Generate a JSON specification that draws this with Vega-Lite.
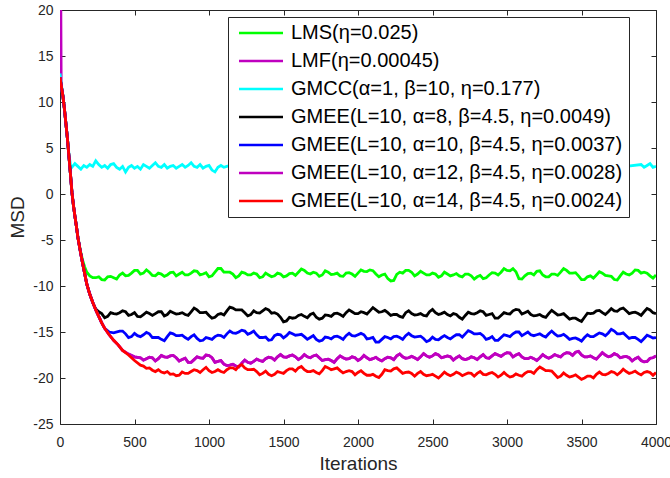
{
"$schema": "https://vega.github.io/schema/vega-lite/v6.json",
"width": 596, "height": 414,
"autosize": "none",
"padding": {"left": 60, "top": 10, "right": 14, "bottom": 54},
"background": "white",
"config": {"view": {"stroke": null}, "font": "Liberation Sans",
  "axis": {"domainColor": "#262626", "tickColor": "#262626", "labelColor": "#262626", "titleColor": "#262626", "labelFont": "Liberation Sans", "titleFont": "Liberation Sans", "labelFontSize": 14, "titleFontSize": 19, "titleFontWeight": "normal", "grid": false, "tickSize": -5, "domainWidth": 1, "tickWidth": 1}},
"datasets": {
"names": [{"k":1,"n":"LMS(η=0.025)"},{"k":2,"n":"LMF(η=0.00045)"},{"k":3,"n":"GMCC(α=1, β=10, η=0.177)"},{"k":4,"n":"GMEE(L=10, α=8, β=4.5, η=0.0049)"},{"k":5,"n":"GMEE(L=10, α=10, β=4.5, η=0.0037)"},{"k":6,"n":"GMEE(L=10, α=12, β=4.5, η=0.0028)"},{"k":7,"n":"GMEE(L=10, α=14, β=4.5, η=0.0024)"}],
"msd": [
{"k":1,"x":0,"y":12.7},{"k":1,"x":10,"y":11.6},{"k":1,"x":20,"y":10.6},{"k":1,"x":30,"y":9.2},{"k":1,"x":40,"y":7.6},{"k":1,"x":50,"y":6.0},{"k":1,"x":60,"y":4.1},{"k":1,"x":70,"y":2.2},{"k":1,"x":80,"y":0.2},{"k":1,"x":90,"y":-1.2},{"k":1,"x":100,"y":-2.4},{"k":1,"x":110,"y":-3.5},{"k":1,"x":120,"y":-4.7},{"k":1,"x":135,"y":-6.0},{"k":1,"x":150,"y":-7.1},{"k":1,"x":165,"y":-7.9},{"k":1,"x":180,"y":-8.5},{"k":1,"x":200,"y":-8.9},{"k":1,"x":220,"y":-9.1},
{"k":1,"x":240,"y":-9.1},{"k":1,"x":280,"y":-9.3},{"k":1,"x":320,"y":-9.0},{"k":1,"x":360,"y":-9.1},{"k":1,"x":400,"y":-8.8},{"k":1,"x":440,"y":-8.9},{"k":1,"x":480,"y":-8.6},{"k":1,"x":520,"y":-8.3},{"k":1,"x":560,"y":-8.6},{"k":1,"x":600,"y":-8.5},{"k":1,"x":640,"y":-8.9},{"k":1,"x":680,"y":-8.7},{"k":1,"x":720,"y":-8.8},{"k":1,"x":760,"y":-8.5},{"k":1,"x":800,"y":-8.7},{"k":1,"x":840,"y":-8.8},{"k":1,"x":880,"y":-8.6},{"k":1,"x":920,"y":-8.4},{"k":1,"x":960,"y":-8.7},{"k":1,"x":1000,"y":-9.0},{"k":1,"x":1040,"y":-8.5},{"k":1,"x":1080,"y":-8.1},{"k":1,"x":1120,"y":-8.5},{"k":1,"x":1160,"y":-8.7},{"k":1,"x":1200,"y":-8.9},{"k":1,"x":1240,"y":-8.6},{"k":1,"x":1280,"y":-8.8},{"k":1,"x":1320,"y":-8.7},{"k":1,"x":1360,"y":-9.0},{"k":1,"x":1400,"y":-8.8},{"k":1,"x":1440,"y":-8.9},{"k":1,"x":1480,"y":-8.7},{"k":1,"x":1520,"y":-8.9},{"k":1,"x":1560,"y":-8.6},{"k":1,"x":1600,"y":-8.5},{"k":1,"x":1640,"y":-8.3},{"k":1,"x":1680,"y":-8.7},{"k":1,"x":1720,"y":-8.6},{"k":1,"x":1760,"y":-8.8},{"k":1,"x":1800,"y":-8.5},{"k":1,"x":1840,"y":-8.7},{"k":1,"x":1880,"y":-8.9},{"k":1,"x":1920,"y":-8.6},{"k":1,"x":1960,"y":-8.7},{"k":1,"x":2000,"y":-8.6},{"k":1,"x":2040,"y":-8.4},{"k":1,"x":2080,"y":-8.25},{"k":1,"x":2120,"y":-8.7},{"k":1,"x":2160,"y":-8.8},{"k":1,"x":2200,"y":-9.2},{"k":1,"x":2240,"y":-9.4},{"k":1,"x":2280,"y":-8.5},{"k":1,"x":2320,"y":-8.3},{"k":1,"x":2360,"y":-8.5},{"k":1,"x":2400,"y":-8.7},{"k":1,"x":2440,"y":-8.6},{"k":1,"x":2480,"y":-8.8},{"k":1,"x":2520,"y":-8.7},{"k":1,"x":2560,"y":-8.9},{"k":1,"x":2600,"y":-8.7},{"k":1,"x":2640,"y":-8.8},{"k":1,"x":2680,"y":-8.9},{"k":1,"x":2720,"y":-8.7},{"k":1,"x":2760,"y":-8.9},{"k":1,"x":2800,"y":-9.0},{"k":1,"x":2840,"y":-9.2},{"k":1,"x":2880,"y":-8.8},{"k":1,"x":2920,"y":-8.6},{"k":1,"x":2960,"y":-8.5},{"k":1,"x":3000,"y":-8.3},{"k":1,"x":3040,"y":-8.1},{"k":1,"x":3080,"y":-9.2},{"k":1,"x":3120,"y":-8.9},{"k":1,"x":3160,"y":-8.6},{"k":1,"x":3200,"y":-8.4},{"k":1,"x":3240,"y":-8.8},{"k":1,"x":3280,"y":-9.0},{"k":1,"x":3320,"y":-8.7},{"k":1,"x":3360,"y":-8.5},{"k":1,"x":3400,"y":-8.3},{"k":1,"x":3440,"y":-8.6},{"k":1,"x":3480,"y":-8.9},{"k":1,"x":3520,"y":-9.3},{"k":1,"x":3560,"y":-8.9},{"k":1,"x":3600,"y":-8.8},{"k":1,"x":3640,"y":-8.6},{"k":1,"x":3680,"y":-8.9},{"k":1,"x":3720,"y":-9.3},{"k":1,"x":3760,"y":-8.9},{"k":1,"x":3800,"y":-8.7},{"k":1,"x":3840,"y":-8.6},{"k":1,"x":3880,"y":-8.3},{"k":1,"x":3920,"y":-8.5},{"k":1,"x":3960,"y":-8.9},{"k":1,"x":4000,"y":-8.8},
{"k":1,"x":260,"y":-9.0},{"k":1,"x":300,"y":-9.35},{"k":1,"x":340,"y":-8.95},{"k":1,"x":380,"y":-9.25},{"k":1,"x":420,"y":-8.6},{"k":1,"x":460,"y":-8.85},{"k":1,"x":500,"y":-8.3},{"k":1,"x":540,"y":-8.7},{"k":1,"x":580,"y":-8.25},{"k":1,"x":620,"y":-8.85},{"k":1,"x":660,"y":-8.6},{"k":1,"x":700,"y":-8.95},{"k":1,"x":740,"y":-8.55},{"k":1,"x":780,"y":-8.9},{"k":1,"x":820,"y":-8.5},{"k":1,"x":860,"y":-8.8},{"k":1,"x":900,"y":-8.35},{"k":1,"x":940,"y":-8.8},{"k":1,"x":980,"y":-8.55},{"k":1,"x":1020,"y":-8.9},{"k":1,"x":1060,"y":-8.1},{"k":1,"x":1100,"y":-8.5},{"k":1,"x":1140,"y":-8.5},{"k":1,"x":1180,"y":-9.1},{"k":1,"x":1220,"y":-8.5},{"k":1,"x":1260,"y":-8.8},{"k":1,"x":1300,"y":-8.6},{"k":1,"x":1340,"y":-9.1},{"k":1,"x":1380,"y":-8.6},{"k":1,"x":1420,"y":-9.0},{"k":1,"x":1460,"y":-8.6},{"k":1,"x":1500,"y":-9.0},{"k":1,"x":1540,"y":-8.65},{"k":1,"x":1580,"y":-8.85},{"k":1,"x":1620,"y":-8.15},{"k":1,"x":1660,"y":-8.6},{"k":1,"x":1700,"y":-8.5},{"k":1,"x":1740,"y":-8.95},{"k":1,"x":1780,"y":-8.35},{"k":1,"x":1820,"y":-8.75},{"k":1,"x":1860,"y":-8.6},{"k":1,"x":1900,"y":-8.95},{"k":1,"x":1940,"y":-8.55},{"k":1,"x":1980,"y":-8.95},{"k":1,"x":2020,"y":-8.25},{"k":1,"x":2060,"y":-8.43},{"k":1,"x":2100,"y":-8.33},{"k":1,"x":2140,"y":-9.0},{"k":1,"x":2180,"y":-8.7},{"k":1,"x":2220,"y":-9.45},{"k":1,"x":2260,"y":-8.75},{"k":1,"x":2300,"y":-8.6},{"k":1,"x":2340,"y":-8.3},{"k":1,"x":2380,"y":-8.9},{"k":1,"x":2420,"y":-8.4},{"k":1,"x":2460,"y":-8.8},{"k":1,"x":2500,"y":-8.6},{"k":1,"x":2540,"y":-9.05},{"k":1,"x":2580,"y":-8.5},{"k":1,"x":2620,"y":-8.9},{"k":1,"x":2660,"y":-8.65},{"k":1,"x":2700,"y":-9.0},{"k":1,"x":2740,"y":-8.7},{"k":1,"x":2780,"y":-9.25},{"k":1,"x":2820,"y":-8.85},{"k":1,"x":2860,"y":-9.1},{"k":1,"x":2900,"y":-8.55},{"k":1,"x":2940,"y":-8.8},{"k":1,"x":2980,"y":-8.1},{"k":1,"x":3020,"y":-8.35},{"k":1,"x":3060,"y":-8.45},{"k":1,"x":3100,"y":-9.25},{"k":1,"x":3140,"y":-8.65},{"k":1,"x":3180,"y":-8.8},{"k":1,"x":3220,"y":-8.35},{"k":1,"x":3260,"y":-9.0},{"k":1,"x":3300,"y":-8.7},{"k":1,"x":3340,"y":-8.85},{"k":1,"x":3380,"y":-8.1},{"k":1,"x":3420,"y":-8.6},{"k":1,"x":3460,"y":-8.55},{"k":1,"x":3500,"y":-9.3},{"k":1,"x":3540,"y":-9.0},{"k":1,"x":3580,"y":-9.15},{"k":1,"x":3620,"y":-8.45},{"k":1,"x":3660,"y":-8.85},{"k":1,"x":3700,"y":-8.95},{"k":1,"x":3740,"y":-9.35},{"k":1,"x":3780,"y":-8.5},{"k":1,"x":3820,"y":-8.8},{"k":1,"x":3860,"y":-8.25},{"k":1,"x":3900,"y":-8.6},{"k":1,"x":3940,"y":-8.6},{"k":1,"x":3980,"y":-9.15},
{"k":2,"x":0,"y":40},{"k":2,"x":8,"y":11.8},{"k":2,"x":20,"y":10.6},{"k":2,"x":30,"y":9.2},{"k":2,"x":40,"y":7.6},{"k":2,"x":50,"y":6.0},{"k":2,"x":60,"y":4.1},{"k":2,"x":70,"y":2.2},{"k":2,"x":80,"y":0.2},{"k":2,"x":90,"y":-1.2},{"k":2,"x":100,"y":-2.4},{"k":2,"x":110,"y":-3.5},{"k":2,"x":120,"y":-4.7},{"k":2,"x":135,"y":-6.1},{"k":2,"x":150,"y":-7.4},{"k":2,"x":165,"y":-8.6},{"k":2,"x":180,"y":-9.8},{"k":2,"x":200,"y":-10.9},{"k":2,"x":220,"y":-11.8},{"k":2,"x":240,"y":-12.6},{"k":2,"x":260,"y":-13.3},{"k":2,"x":280,"y":-14.0},{"k":2,"x":300,"y":-14.6},{"k":2,"x":330,"y":-15.3},{"k":2,"x":360,"y":-15.9},{"k":2,"x":390,"y":-16.4},{"k":2,"x":420,"y":-17.0},{"k":2,"x":460,"y":-17.4},{"k":2,"x":500,"y":-17.7},
{"k":2,"x":540,"y":-17.8},{"k":2,"x":580,"y":-17.9},{"k":2,"x":620,"y":-17.8},{"k":2,"x":660,"y":-17.9},{"k":2,"x":700,"y":-17.7},{"k":2,"x":740,"y":-17.6},{"k":2,"x":780,"y":-17.8},{"k":2,"x":820,"y":-18.0},{"k":2,"x":860,"y":-18.3},{"k":2,"x":900,"y":-18.0},{"k":2,"x":940,"y":-17.8},{"k":2,"x":980,"y":-17.5},{"k":2,"x":1020,"y":-17.8},{"k":2,"x":1060,"y":-18.2},{"k":2,"x":1100,"y":-18.5},{"k":2,"x":1140,"y":-18.6},{"k":2,"x":1180,"y":-18.7},{"k":2,"x":1220,"y":-18.4},{"k":2,"x":1260,"y":-18.3},{"k":2,"x":1300,"y":-18.2},{"k":2,"x":1340,"y":-18.1},{"k":2,"x":1380,"y":-17.9},{"k":2,"x":1420,"y":-17.8},{"k":2,"x":1460,"y":-17.7},{"k":2,"x":1500,"y":-17.7},{"k":2,"x":1540,"y":-17.6},{"k":2,"x":1580,"y":-17.7},{"k":2,"x":1620,"y":-17.8},{"k":2,"x":1660,"y":-17.7},{"k":2,"x":1700,"y":-17.6},{"k":2,"x":1740,"y":-17.8},{"k":2,"x":1780,"y":-18.0},{"k":2,"x":1820,"y":-18.1},{"k":2,"x":1860,"y":-17.9},{"k":2,"x":1900,"y":-17.8},{"k":2,"x":1940,"y":-17.9},{"k":2,"x":1980,"y":-17.8},{"k":2,"x":2020,"y":-17.9},{"k":2,"x":2060,"y":-17.8},{"k":2,"x":2100,"y":-17.9},{"k":2,"x":2140,"y":-18.0},{"k":2,"x":2180,"y":-17.9},{"k":2,"x":2220,"y":-17.8},{"k":2,"x":2260,"y":-17.6},{"k":2,"x":2300,"y":-17.7},{"k":2,"x":2340,"y":-17.8},{"k":2,"x":2380,"y":-17.8},{"k":2,"x":2420,"y":-17.7},{"k":2,"x":2460,"y":-17.6},{"k":2,"x":2500,"y":-17.6},{"k":2,"x":2540,"y":-17.5},{"k":2,"x":2580,"y":-17.7},{"k":2,"x":2620,"y":-17.7},{"k":2,"x":2660,"y":-17.8},{"k":2,"x":2700,"y":-17.9},{"k":2,"x":2740,"y":-17.9},{"k":2,"x":2780,"y":-17.8},{"k":2,"x":2820,"y":-17.7},{"k":2,"x":2860,"y":-17.8},{"k":2,"x":2900,"y":-17.6},{"k":2,"x":2940,"y":-17.5},{"k":2,"x":2980,"y":-17.4},{"k":2,"x":3020,"y":-17.3},{"k":2,"x":3060,"y":-17.5},{"k":2,"x":3100,"y":-17.7},{"k":2,"x":3140,"y":-17.9},{"k":2,"x":3180,"y":-17.9},{"k":2,"x":3220,"y":-17.8},{"k":2,"x":3260,"y":-17.7},{"k":2,"x":3300,"y":-17.7},{"k":2,"x":3340,"y":-17.6},{"k":2,"x":3380,"y":-17.4},{"k":2,"x":3420,"y":-17.3},{"k":2,"x":3460,"y":-17.2},{"k":2,"x":3500,"y":-17.5},{"k":2,"x":3540,"y":-17.7},{"k":2,"x":3580,"y":-17.8},{"k":2,"x":3620,"y":-17.6},{"k":2,"x":3660,"y":-17.5},{"k":2,"x":3700,"y":-17.6},{"k":2,"x":3740,"y":-17.5},{"k":2,"x":3780,"y":-17.7},{"k":2,"x":3820,"y":-17.8},{"k":2,"x":3860,"y":-17.9},{"k":2,"x":3900,"y":-18.1},{"k":2,"x":3940,"y":-18.2},{"k":2,"x":3980,"y":-17.8},{"k":2,"x":4000,"y":-17.6},
{"k":2,"x":560,"y":-18.05},{"k":2,"x":600,"y":-17.75},{"k":2,"x":640,"y":-18.15},{"k":2,"x":680,"y":-17.55},{"k":2,"x":720,"y":-17.75},{"k":2,"x":760,"y":-17.55},{"k":2,"x":800,"y":-18.15},{"k":2,"x":840,"y":-17.85},{"k":2,"x":880,"y":-18.3},{"k":2,"x":920,"y":-17.7},{"k":2,"x":960,"y":-17.85},{"k":2,"x":1000,"y":-17.55},{"k":2,"x":1040,"y":-18.3},{"k":2,"x":1080,"y":-18.1},{"k":2,"x":1120,"y":-18.65},{"k":2,"x":1160,"y":-18.5},{"k":2,"x":1200,"y":-18.8},{"k":2,"x":1240,"y":-18.05},{"k":2,"x":1280,"y":-18.4},{"k":2,"x":1320,"y":-17.95},{"k":2,"x":1360,"y":-18.2},{"k":2,"x":1400,"y":-17.75},{"k":2,"x":1440,"y":-18.05},{"k":2,"x":1480,"y":-17.45},{"k":2,"x":1520,"y":-17.75},{"k":2,"x":1560,"y":-17.5},{"k":2,"x":1600,"y":-18.0},{"k":2,"x":1640,"y":-17.45},{"k":2,"x":1680,"y":-17.8},{"k":2,"x":1720,"y":-17.5},{"k":2,"x":1760,"y":-18.1},{"k":2,"x":1800,"y":-17.95},{"k":2,"x":1840,"y":-18.3},{"k":2,"x":1880,"y":-17.6},{"k":2,"x":1920,"y":-17.95},{"k":2,"x":1960,"y":-17.7},{"k":2,"x":2000,"y":-18.1},{"k":2,"x":2040,"y":-17.55},{"k":2,"x":2080,"y":-18.0},{"k":2,"x":2120,"y":-17.75},{"k":2,"x":2160,"y":-18.15},{"k":2,"x":2200,"y":-17.75},{"k":2,"x":2240,"y":-18.0},{"k":2,"x":2280,"y":-17.4},{"k":2,"x":2320,"y":-17.85},{"k":2,"x":2360,"y":-17.65},{"k":2,"x":2400,"y":-18.0},{"k":2,"x":2440,"y":-17.35},{"k":2,"x":2480,"y":-17.75},{"k":2,"x":2520,"y":-17.35},{"k":2,"x":2560,"y":-17.8},{"k":2,"x":2600,"y":-17.6},{"k":2,"x":2640,"y":-18.05},{"k":2,"x":2680,"y":-17.6},{"k":2,"x":2720,"y":-18.0},{"k":2,"x":2760,"y":-17.7},{"k":2,"x":2800,"y":-18.0},{"k":2,"x":2840,"y":-17.45},{"k":2,"x":2880,"y":-17.85},{"k":2,"x":2920,"y":-17.35},{"k":2,"x":2960,"y":-17.65},{"k":2,"x":3000,"y":-17.25},{"k":2,"x":3040,"y":-17.7},{"k":2,"x":3080,"y":-17.35},{"k":2,"x":3120,"y":-17.9},{"k":2,"x":3160,"y":-17.75},{"k":2,"x":3200,"y":-18.1},{"k":2,"x":3240,"y":-17.45},{"k":2,"x":3280,"y":-17.85},{"k":2,"x":3320,"y":-17.45},{"k":2,"x":3360,"y":-17.7},{"k":2,"x":3400,"y":-17.25},{"k":2,"x":3440,"y":-17.55},{"k":2,"x":3480,"y":-17.1},{"k":2,"x":3520,"y":-17.7},{"k":2,"x":3560,"y":-17.6},{"k":2,"x":3600,"y":-17.95},{"k":2,"x":3640,"y":-17.25},{"k":2,"x":3680,"y":-17.7},{"k":2,"x":3720,"y":-17.35},{"k":2,"x":3760,"y":-17.8},{"k":2,"x":3800,"y":-17.65},{"k":2,"x":3840,"y":-18.15},{"k":2,"x":3880,"y":-17.75},{"k":2,"x":3920,"y":-18.25},{"k":2,"x":3960,"y":-17.85},
{"k":3,"x":0,"y":13.1},{"k":3,"x":10,"y":11.8},{"k":3,"x":20,"y":10.7},{"k":3,"x":30,"y":9.2},{"k":3,"x":40,"y":7.6},{"k":3,"x":50,"y":6.0},{"k":3,"x":60,"y":4.3},{"k":3,"x":70,"y":3.2},{"k":3,"x":80,"y":2.9},{"k":3,"x":100,"y":3.3},{"k":3,"x":120,"y":3.0},{"k":3,"x":140,"y":2.7},{"k":3,"x":160,"y":3.1},{"k":3,"x":180,"y":2.9},{"k":3,"x":200,"y":3.2},{"k":3,"x":220,"y":3.0},{"k":3,"x":240,"y":3.6},{"k":3,"x":260,"y":3.2},{"k":3,"x":280,"y":2.9},{"k":3,"x":300,"y":3.1},{"k":3,"x":320,"y":2.8},{"k":3,"x":340,"y":3.2},{"k":3,"x":360,"y":3.3},{"k":3,"x":380,"y":2.9},{"k":3,"x":400,"y":2.7},{"k":3,"x":420,"y":3.0},{"k":3,"x":440,"y":2.4},{"k":3,"x":460,"y":2.9},{"k":3,"x":480,"y":3.1},{"k":3,"x":500,"y":2.8},{"k":3,"x":520,"y":3.0},{"k":3,"x":540,"y":2.7},{"k":3,"x":560,"y":3.2},{"k":3,"x":580,"y":3.0},{"k":3,"x":600,"y":2.8},{"k":3,"x":620,"y":3.1},{"k":3,"x":640,"y":3.4},{"k":3,"x":660,"y":3.0},{"k":3,"x":680,"y":2.9},{"k":3,"x":700,"y":3.2},{"k":3,"x":720,"y":2.8},{"k":3,"x":740,"y":3.0},{"k":3,"x":760,"y":3.1},{"k":3,"x":780,"y":2.8},{"k":3,"x":800,"y":3.0},{"k":3,"x":820,"y":3.2},{"k":3,"x":840,"y":2.9},{"k":3,"x":860,"y":3.1},{"k":3,"x":880,"y":3.4},{"k":3,"x":900,"y":3.0},{"k":3,"x":920,"y":2.9},{"k":3,"x":940,"y":3.2},{"k":3,"x":960,"y":2.8},{"k":3,"x":980,"y":3.0},{"k":3,"x":1000,"y":3.1},{"k":3,"x":1020,"y":2.6},{"k":3,"x":1040,"y":2.4},{"k":3,"x":1060,"y":2.9},{"k":3,"x":1080,"y":3.1},{"k":3,"x":1100,"y":2.9},{"k":3,"x":1120,"y":3.0},{"k":3,"x":1140,"y":3.1},{"k":3,"x":1160,"y":2.8},{"k":3,"x":1400,"y":3.0},{"k":3,"x":1800,"y":2.9},{"k":3,"x":2200,"y":3.1},{"k":3,"x":2600,"y":3.0},{"k":3,"x":3000,"y":2.9},{"k":3,"x":3400,"y":3.1},{"k":3,"x":3800,"y":3.0},{"k":3,"x":3900,"y":3.2},{"k":3,"x":3920,"y":2.9},{"k":3,"x":3940,"y":3.1},{"k":3,"x":3960,"y":3.3},{"k":3,"x":3980,"y":2.9},{"k":3,"x":4000,"y":3.0},
{"k":4,"x":0,"y":12.7},{"k":4,"x":10,"y":11.6},{"k":4,"x":20,"y":10.6},{"k":4,"x":30,"y":9.2},{"k":4,"x":40,"y":7.6},{"k":4,"x":50,"y":6.0},{"k":4,"x":60,"y":4.1},{"k":4,"x":70,"y":2.2},{"k":4,"x":80,"y":0.2},{"k":4,"x":90,"y":-1.2},{"k":4,"x":100,"y":-2.4},{"k":4,"x":110,"y":-3.5},{"k":4,"x":120,"y":-4.7},{"k":4,"x":135,"y":-6.1},{"k":4,"x":150,"y":-7.4},{"k":4,"x":165,"y":-8.6},{"k":4,"x":180,"y":-9.8},{"k":4,"x":200,"y":-10.9},{"k":4,"x":220,"y":-11.8},{"k":4,"x":240,"y":-12.5},{"k":4,"x":260,"y":-12.8},
{"k":4,"x":280,"y":-13.0},{"k":4,"x":320,"y":-13.3},{"k":4,"x":360,"y":-13.0},{"k":4,"x":400,"y":-12.9},{"k":4,"x":440,"y":-12.8},{"k":4,"x":480,"y":-13.1},{"k":4,"x":520,"y":-13.3},{"k":4,"x":560,"y":-13.1},{"k":4,"x":600,"y":-13.0},{"k":4,"x":640,"y":-13.0},{"k":4,"x":680,"y":-12.8},{"k":4,"x":720,"y":-13.1},{"k":4,"x":760,"y":-12.9},{"k":4,"x":800,"y":-13.0},{"k":4,"x":840,"y":-13.1},{"k":4,"x":880,"y":-12.8},{"k":4,"x":920,"y":-12.6},{"k":4,"x":960,"y":-12.9},{"k":4,"x":1000,"y":-13.2},{"k":4,"x":1040,"y":-13.4},{"k":4,"x":1080,"y":-13.0},{"k":4,"x":1120,"y":-12.7},{"k":4,"x":1160,"y":-12.4},{"k":4,"x":1200,"y":-12.6},{"k":4,"x":1240,"y":-12.9},{"k":4,"x":1280,"y":-13.1},{"k":4,"x":1320,"y":-12.9},{"k":4,"x":1360,"y":-12.7},{"k":4,"x":1400,"y":-12.6},{"k":4,"x":1440,"y":-12.9},{"k":4,"x":1480,"y":-13.4},{"k":4,"x":1520,"y":-13.8},{"k":4,"x":1560,"y":-13.5},{"k":4,"x":1600,"y":-13.2},{"k":4,"x":1640,"y":-13.3},{"k":4,"x":1680,"y":-13.1},{"k":4,"x":1720,"y":-13.4},{"k":4,"x":1760,"y":-13.5},{"k":4,"x":1800,"y":-13.2},{"k":4,"x":1840,"y":-13.0},{"k":4,"x":1880,"y":-13.1},{"k":4,"x":1920,"y":-12.9},{"k":4,"x":1960,"y":-12.8},{"k":4,"x":2000,"y":-13.0},{"k":4,"x":2040,"y":-12.9},{"k":4,"x":2080,"y":-12.7},{"k":4,"x":2120,"y":-12.6},{"k":4,"x":2160,"y":-12.8},{"k":4,"x":2200,"y":-12.9},{"k":4,"x":2240,"y":-13.1},{"k":4,"x":2280,"y":-13.3},{"k":4,"x":2320,"y":-12.9},{"k":4,"x":2360,"y":-13.0},{"k":4,"x":2400,"y":-13.1},{"k":4,"x":2440,"y":-13.2},{"k":4,"x":2480,"y":-12.8},{"k":4,"x":2520,"y":-12.9},{"k":4,"x":2560,"y":-13.0},{"k":4,"x":2600,"y":-13.1},{"k":4,"x":2640,"y":-13.0},{"k":4,"x":2680,"y":-13.4},{"k":4,"x":2720,"y":-13.2},{"k":4,"x":2760,"y":-13.0},{"k":4,"x":2800,"y":-12.9},{"k":4,"x":2840,"y":-12.8},{"k":4,"x":2880,"y":-13.1},{"k":4,"x":2920,"y":-13.5},{"k":4,"x":2960,"y":-13.2},{"k":4,"x":3000,"y":-13.0},{"k":4,"x":3040,"y":-12.7},{"k":4,"x":3080,"y":-12.6},{"k":4,"x":3120,"y":-12.9},{"k":4,"x":3160,"y":-13.1},{"k":4,"x":3200,"y":-13.2},{"k":4,"x":3240,"y":-13.3},{"k":4,"x":3280,"y":-13.0},{"k":4,"x":3320,"y":-12.9},{"k":4,"x":3360,"y":-13.1},{"k":4,"x":3400,"y":-13.3},{"k":4,"x":3440,"y":-13.5},{"k":4,"x":3480,"y":-13.7},{"k":4,"x":3520,"y":-13.4},{"k":4,"x":3560,"y":-13.0},{"k":4,"x":3600,"y":-12.7},{"k":4,"x":3640,"y":-12.9},{"k":4,"x":3680,"y":-12.8},{"k":4,"x":3720,"y":-12.7},{"k":4,"x":3760,"y":-12.5},{"k":4,"x":3800,"y":-12.7},{"k":4,"x":3840,"y":-12.9},{"k":4,"x":3880,"y":-13.0},{"k":4,"x":3920,"y":-12.8},{"k":4,"x":3960,"y":-12.6},{"k":4,"x":4000,"y":-13.0},
{"k":4,"x":300,"y":-13.45},{"k":4,"x":340,"y":-12.9},{"k":4,"x":380,"y":-13.05},{"k":4,"x":420,"y":-12.7},{"k":4,"x":460,"y":-13.2},{"k":4,"x":500,"y":-12.9},{"k":4,"x":540,"y":-13.35},{"k":4,"x":580,"y":-12.85},{"k":4,"x":620,"y":-13.2},{"k":4,"x":660,"y":-12.8},{"k":4,"x":700,"y":-13.25},{"k":4,"x":740,"y":-12.75},{"k":4,"x":780,"y":-13.05},{"k":4,"x":820,"y":-12.9},{"k":4,"x":860,"y":-13.2},{"k":4,"x":900,"y":-12.4},{"k":4,"x":940,"y":-12.9},{"k":4,"x":980,"y":-12.85},{"k":4,"x":1020,"y":-13.5},{"k":4,"x":1060,"y":-13.1},{"k":4,"x":1100,"y":-13.15},{"k":4,"x":1140,"y":-12.3},{"k":4,"x":1180,"y":-12.6},{"k":4,"x":1220,"y":-12.6},{"k":4,"x":1260,"y":-13.25},{"k":4,"x":1300,"y":-12.7},{"k":4,"x":1340,"y":-12.95},{"k":4,"x":1380,"y":-12.45},{"k":4,"x":1420,"y":-12.95},{"k":4,"x":1460,"y":-13.05},{"k":4,"x":1500,"y":-13.9},{"k":4,"x":1540,"y":-13.4},{"k":4,"x":1580,"y":-13.45},{"k":4,"x":1620,"y":-13.1},{"k":4,"x":1660,"y":-13.45},{"k":4,"x":1700,"y":-12.95},{"k":4,"x":1740,"y":-13.6},{"k":4,"x":1780,"y":-13.15},{"k":4,"x":1820,"y":-13.3},{"k":4,"x":1860,"y":-12.95},{"k":4,"x":1900,"y":-13.3},{"k":4,"x":1940,"y":-12.6},{"k":4,"x":1980,"y":-13.0},{"k":4,"x":2020,"y":-12.8},{"k":4,"x":2060,"y":-13.05},{"k":4,"x":2100,"y":-12.35},{"k":4,"x":2140,"y":-12.85},{"k":4,"x":2180,"y":-12.65},{"k":4,"x":2220,"y":-13.2},{"k":4,"x":2260,"y":-13.1},{"k":4,"x":2300,"y":-13.4},{"k":4,"x":2340,"y":-12.7},{"k":4,"x":2380,"y":-13.15},{"k":4,"x":2420,"y":-13.0},{"k":4,"x":2460,"y":-13.25},{"k":4,"x":2500,"y":-12.55},{"k":4,"x":2540,"y":-13.1},{"k":4,"x":2580,"y":-12.85},{"k":4,"x":2620,"y":-13.25},{"k":4,"x":2660,"y":-13.1},{"k":4,"x":2700,"y":-13.6},{"k":4,"x":2740,"y":-12.85},{"k":4,"x":2780,"y":-13.05},{"k":4,"x":2820,"y":-12.7},{"k":4,"x":2860,"y":-13.2},{"k":4,"x":2900,"y":-13.0},{"k":4,"x":2940,"y":-13.5},{"k":4,"x":2980,"y":-12.9},{"k":4,"x":3020,"y":-13.05},{"k":4,"x":3060,"y":-12.55},{"k":4,"x":3100,"y":-13.05},{"k":4,"x":3140,"y":-12.75},{"k":4,"x":3180,"y":-13.25},{"k":4,"x":3220,"y":-13.1},{"k":4,"x":3260,"y":-13.4},{"k":4,"x":3300,"y":-12.65},{"k":4,"x":3340,"y":-13.15},{"k":4,"x":3380,"y":-13.0},{"k":4,"x":3420,"y":-13.6},{"k":4,"x":3460,"y":-13.5},{"k":4,"x":3500,"y":-13.85},{"k":4,"x":3540,"y":-12.95},{"k":4,"x":3580,"y":-12.95},{"k":4,"x":3620,"y":-12.65},{"k":4,"x":3660,"y":-13.1},{"k":4,"x":3700,"y":-12.45},{"k":4,"x":3740,"y":-12.75},{"k":4,"x":3780,"y":-12.4},{"k":4,"x":3820,"y":-13.0},{"k":4,"x":3860,"y":-12.85},{"k":4,"x":3900,"y":-13.2},{"k":4,"x":3940,"y":-12.45},{"k":4,"x":3980,"y":-12.9},
{"k":5,"x":0,"y":12.7},{"k":5,"x":10,"y":11.6},{"k":5,"x":20,"y":10.6},{"k":5,"x":30,"y":9.2},{"k":5,"x":40,"y":7.6},{"k":5,"x":50,"y":6.0},{"k":5,"x":60,"y":4.1},{"k":5,"x":70,"y":2.2},{"k":5,"x":80,"y":0.2},{"k":5,"x":90,"y":-1.2},{"k":5,"x":100,"y":-2.4},{"k":5,"x":110,"y":-3.5},{"k":5,"x":120,"y":-4.7},{"k":5,"x":135,"y":-6.1},{"k":5,"x":150,"y":-7.4},{"k":5,"x":165,"y":-8.6},{"k":5,"x":180,"y":-9.8},{"k":5,"x":200,"y":-10.9},{"k":5,"x":220,"y":-11.8},{"k":5,"x":240,"y":-12.6},{"k":5,"x":260,"y":-13.3},{"k":5,"x":280,"y":-14.0},{"k":5,"x":300,"y":-14.6},{"k":5,"x":330,"y":-15.0},{"k":5,"x":360,"y":-15.1},
{"k":5,"x":400,"y":-14.9},{"k":5,"x":440,"y":-15.2},{"k":5,"x":480,"y":-15.5},{"k":5,"x":520,"y":-15.4},{"k":5,"x":560,"y":-15.3},{"k":5,"x":600,"y":-15.2},{"k":5,"x":640,"y":-15.6},{"k":5,"x":680,"y":-15.8},{"k":5,"x":720,"y":-15.5},{"k":5,"x":760,"y":-15.2},{"k":5,"x":800,"y":-15.4},{"k":5,"x":840,"y":-15.6},{"k":5,"x":880,"y":-15.5},{"k":5,"x":920,"y":-15.7},{"k":5,"x":960,"y":-15.9},{"k":5,"x":1000,"y":-15.7},{"k":5,"x":1040,"y":-15.5},{"k":5,"x":1080,"y":-15.4},{"k":5,"x":1120,"y":-15.2},{"k":5,"x":1160,"y":-15.1},{"k":5,"x":1200,"y":-15.0},{"k":5,"x":1240,"y":-14.9},{"k":5,"x":1280,"y":-15.1},{"k":5,"x":1320,"y":-15.3},{"k":5,"x":1360,"y":-15.6},{"k":5,"x":1400,"y":-15.9},{"k":5,"x":1440,"y":-15.4},{"k":5,"x":1480,"y":-15.3},{"k":5,"x":1520,"y":-15.4},{"k":5,"x":1560,"y":-15.2},{"k":5,"x":1600,"y":-15.3},{"k":5,"x":1640,"y":-15.5},{"k":5,"x":1680,"y":-15.6},{"k":5,"x":1720,"y":-15.8},{"k":5,"x":1760,"y":-15.9},{"k":5,"x":1800,"y":-15.6},{"k":5,"x":1840,"y":-15.5},{"k":5,"x":1880,"y":-15.6},{"k":5,"x":1920,"y":-15.4},{"k":5,"x":1960,"y":-15.4},{"k":5,"x":2000,"y":-15.3},{"k":5,"x":2040,"y":-15.3},{"k":5,"x":2080,"y":-15.7},{"k":5,"x":2120,"y":-16.1},{"k":5,"x":2160,"y":-15.8},{"k":5,"x":2200,"y":-15.6},{"k":5,"x":2240,"y":-15.5},{"k":5,"x":2280,"y":-15.6},{"k":5,"x":2320,"y":-15.4},{"k":5,"x":2360,"y":-15.4},{"k":5,"x":2400,"y":-15.5},{"k":5,"x":2440,"y":-15.7},{"k":5,"x":2480,"y":-15.9},{"k":5,"x":2520,"y":-15.8},{"k":5,"x":2560,"y":-15.6},{"k":5,"x":2600,"y":-15.6},{"k":5,"x":2640,"y":-15.5},{"k":5,"x":2680,"y":-15.3},{"k":5,"x":2720,"y":-15.2},{"k":5,"x":2760,"y":-15.0},{"k":5,"x":2800,"y":-15.2},{"k":5,"x":2840,"y":-15.4},{"k":5,"x":2880,"y":-15.7},{"k":5,"x":2920,"y":-15.9},{"k":5,"x":2960,"y":-15.6},{"k":5,"x":3000,"y":-15.4},{"k":5,"x":3040,"y":-15.2},{"k":5,"x":3080,"y":-15.0},{"k":5,"x":3120,"y":-15.2},{"k":5,"x":3160,"y":-15.3},{"k":5,"x":3200,"y":-15.3},{"k":5,"x":3240,"y":-15.4},{"k":5,"x":3280,"y":-15.2},{"k":5,"x":3320,"y":-15.2},{"k":5,"x":3360,"y":-15.4},{"k":5,"x":3400,"y":-15.5},{"k":5,"x":3440,"y":-15.7},{"k":5,"x":3480,"y":-15.8},{"k":5,"x":3520,"y":-15.6},{"k":5,"x":3560,"y":-15.5},{"k":5,"x":3600,"y":-15.3},{"k":5,"x":3640,"y":-15.2},{"k":5,"x":3680,"y":-15.1},{"k":5,"x":3720,"y":-14.9},{"k":5,"x":3760,"y":-15.2},{"k":5,"x":3800,"y":-15.4},{"k":5,"x":3840,"y":-15.6},{"k":5,"x":3880,"y":-15.8},{"k":5,"x":3920,"y":-15.7},{"k":5,"x":3960,"y":-15.5},{"k":5,"x":4000,"y":-15.6},
{"k":5,"x":420,"y":-14.9},{"k":5,"x":460,"y":-15.6},{"k":5,"x":500,"y":-15.15},{"k":5,"x":540,"y":-15.5},{"k":5,"x":580,"y":-15.05},{"k":5,"x":620,"y":-15.6},{"k":5,"x":660,"y":-15.6},{"k":5,"x":700,"y":-15.95},{"k":5,"x":740,"y":-15.1},{"k":5,"x":780,"y":-15.4},{"k":5,"x":820,"y":-15.35},{"k":5,"x":860,"y":-15.8},{"k":5,"x":900,"y":-15.3},{"k":5,"x":940,"y":-15.95},{"k":5,"x":980,"y":-15.6},{"k":5,"x":1020,"y":-15.8},{"k":5,"x":1060,"y":-15.35},{"k":5,"x":1100,"y":-15.6},{"k":5,"x":1140,"y":-14.9},{"k":5,"x":1180,"y":-15.15},{"k":5,"x":1220,"y":-14.8},{"k":5,"x":1260,"y":-15.25},{"k":5,"x":1300,"y":-14.9},{"k":5,"x":1340,"y":-15.6},{"k":5,"x":1380,"y":-15.55},{"k":5,"x":1420,"y":-15.85},{"k":5,"x":1460,"y":-15.25},{"k":5,"x":1500,"y":-15.65},{"k":5,"x":1540,"y":-15.05},{"k":5,"x":1580,"y":-15.35},{"k":5,"x":1620,"y":-15.25},{"k":5,"x":1660,"y":-15.8},{"k":5,"x":1700,"y":-15.4},{"k":5,"x":1740,"y":-16.0},{"k":5,"x":1780,"y":-15.55},{"k":5,"x":1820,"y":-15.75},{"k":5,"x":1860,"y":-15.45},{"k":5,"x":1900,"y":-15.8},{"k":5,"x":1940,"y":-15.15},{"k":5,"x":1980,"y":-15.45},{"k":5,"x":2020,"y":-15.15},{"k":5,"x":2060,"y":-15.75},{"k":5,"x":2100,"y":-15.6},{"k":5,"x":2140,"y":-16.1},{"k":5,"x":2180,"y":-15.5},{"k":5,"x":2220,"y":-15.75},{"k":5,"x":2260,"y":-15.45},{"k":5,"x":2300,"y":-15.8},{"k":5,"x":2340,"y":-15.15},{"k":5,"x":2380,"y":-15.55},{"k":5,"x":2420,"y":-15.45},{"k":5,"x":2460,"y":-16.05},{"k":5,"x":2500,"y":-15.55},{"k":5,"x":2540,"y":-15.85},{"k":5,"x":2580,"y":-15.4},{"k":5,"x":2620,"y":-15.75},{"k":5,"x":2660,"y":-15.3},{"k":5,"x":2700,"y":-15.55},{"k":5,"x":2740,"y":-14.85},{"k":5,"x":2780,"y":-15.2},{"k":5,"x":2820,"y":-15.15},{"k":5,"x":2860,"y":-15.8},{"k":5,"x":2900,"y":-15.5},{"k":5,"x":2940,"y":-15.9},{"k":5,"x":2980,"y":-15.3},{"k":5,"x":3020,"y":-15.5},{"k":5,"x":3060,"y":-15.0},{"k":5,"x":3100,"y":-15.4},{"k":5,"x":3140,"y":-15.0},{"k":5,"x":3180,"y":-15.4},{"k":5,"x":3220,"y":-15.2},{"k":5,"x":3260,"y":-15.55},{"k":5,"x":3300,"y":-14.9},{"k":5,"x":3340,"y":-15.45},{"k":5,"x":3380,"y":-15.25},{"k":5,"x":3420,"y":-15.8},{"k":5,"x":3460,"y":-15.65},{"k":5,"x":3500,"y":-16.0},{"k":5,"x":3540,"y":-15.3},{"k":5,"x":3580,"y":-15.5},{"k":5,"x":3620,"y":-15.1},{"k":5,"x":3660,"y":-15.4},{"k":5,"x":3700,"y":-14.7},{"k":5,"x":3740,"y":-15.2},{"k":5,"x":3780,"y":-15.1},{"k":5,"x":3820,"y":-15.7},{"k":5,"x":3860,"y":-15.6},{"k":5,"x":3900,"y":-16.05},{"k":5,"x":3940,"y":-15.35},{"k":5,"x":3980,"y":-15.65},
{"k":6,"x":0,"y":12.7},{"k":6,"x":10,"y":11.6},{"k":6,"x":20,"y":10.6},{"k":6,"x":30,"y":9.2},{"k":6,"x":40,"y":7.6},{"k":6,"x":50,"y":6.0},{"k":6,"x":60,"y":4.1},{"k":6,"x":70,"y":2.2},{"k":6,"x":80,"y":0.2},{"k":6,"x":90,"y":-1.2},{"k":6,"x":100,"y":-2.4},{"k":6,"x":110,"y":-3.5},{"k":6,"x":120,"y":-4.7},{"k":6,"x":135,"y":-6.1},{"k":6,"x":150,"y":-7.4},{"k":6,"x":165,"y":-8.6},{"k":6,"x":180,"y":-9.8},{"k":6,"x":200,"y":-10.9},{"k":6,"x":220,"y":-11.8},{"k":6,"x":240,"y":-12.6},{"k":6,"x":260,"y":-13.3},{"k":6,"x":280,"y":-14.0},{"k":6,"x":300,"y":-14.6},{"k":6,"x":330,"y":-15.3},{"k":6,"x":360,"y":-15.9},{"k":6,"x":390,"y":-16.4},{"k":6,"x":420,"y":-17.0},{"k":6,"x":460,"y":-17.4},{"k":6,"x":500,"y":-17.7},
{"k":6,"x":540,"y":-17.8},{"k":6,"x":580,"y":-17.9},{"k":6,"x":620,"y":-17.8},{"k":6,"x":660,"y":-17.9},{"k":6,"x":700,"y":-17.7},{"k":6,"x":740,"y":-17.6},{"k":6,"x":780,"y":-17.8},{"k":6,"x":820,"y":-18.0},{"k":6,"x":860,"y":-18.3},{"k":6,"x":900,"y":-18.0},{"k":6,"x":940,"y":-17.8},{"k":6,"x":980,"y":-17.5},{"k":6,"x":1020,"y":-17.8},{"k":6,"x":1060,"y":-18.2},{"k":6,"x":1100,"y":-18.5},{"k":6,"x":1140,"y":-18.6},{"k":6,"x":1180,"y":-18.7},{"k":6,"x":1220,"y":-18.4},{"k":6,"x":1260,"y":-18.3},{"k":6,"x":1300,"y":-18.2},{"k":6,"x":1340,"y":-18.1},{"k":6,"x":1380,"y":-17.9},{"k":6,"x":1420,"y":-17.8},{"k":6,"x":1460,"y":-17.7},{"k":6,"x":1500,"y":-17.7},{"k":6,"x":1540,"y":-17.6},{"k":6,"x":1580,"y":-17.7},{"k":6,"x":1620,"y":-17.8},{"k":6,"x":1660,"y":-17.7},{"k":6,"x":1700,"y":-17.6},{"k":6,"x":1740,"y":-17.8},{"k":6,"x":1780,"y":-18.0},{"k":6,"x":1820,"y":-18.1},{"k":6,"x":1860,"y":-17.9},{"k":6,"x":1900,"y":-17.8},{"k":6,"x":1940,"y":-17.9},{"k":6,"x":1980,"y":-17.8},{"k":6,"x":2020,"y":-17.9},{"k":6,"x":2060,"y":-17.8},{"k":6,"x":2100,"y":-17.9},{"k":6,"x":2140,"y":-18.0},{"k":6,"x":2180,"y":-17.9},{"k":6,"x":2220,"y":-17.8},{"k":6,"x":2260,"y":-17.6},{"k":6,"x":2300,"y":-17.7},{"k":6,"x":2340,"y":-17.8},{"k":6,"x":2380,"y":-17.8},{"k":6,"x":2420,"y":-17.7},{"k":6,"x":2460,"y":-17.6},{"k":6,"x":2500,"y":-17.6},{"k":6,"x":2540,"y":-17.5},{"k":6,"x":2580,"y":-17.7},{"k":6,"x":2620,"y":-17.7},{"k":6,"x":2660,"y":-17.8},{"k":6,"x":2700,"y":-17.9},{"k":6,"x":2740,"y":-17.9},{"k":6,"x":2780,"y":-17.8},{"k":6,"x":2820,"y":-17.7},{"k":6,"x":2860,"y":-17.8},{"k":6,"x":2900,"y":-17.6},{"k":6,"x":2940,"y":-17.5},{"k":6,"x":2980,"y":-17.4},{"k":6,"x":3020,"y":-17.3},{"k":6,"x":3060,"y":-17.5},{"k":6,"x":3100,"y":-17.7},{"k":6,"x":3140,"y":-17.9},{"k":6,"x":3180,"y":-17.9},{"k":6,"x":3220,"y":-17.8},{"k":6,"x":3260,"y":-17.7},{"k":6,"x":3300,"y":-17.7},{"k":6,"x":3340,"y":-17.6},{"k":6,"x":3380,"y":-17.4},{"k":6,"x":3420,"y":-17.3},{"k":6,"x":3460,"y":-17.2},{"k":6,"x":3500,"y":-17.5},{"k":6,"x":3540,"y":-17.7},{"k":6,"x":3580,"y":-17.8},{"k":6,"x":3620,"y":-17.6},{"k":6,"x":3660,"y":-17.5},{"k":6,"x":3700,"y":-17.6},{"k":6,"x":3740,"y":-17.5},{"k":6,"x":3780,"y":-17.7},{"k":6,"x":3820,"y":-17.8},{"k":6,"x":3860,"y":-17.9},{"k":6,"x":3900,"y":-18.1},{"k":6,"x":3940,"y":-18.2},{"k":6,"x":3980,"y":-17.8},{"k":6,"x":4000,"y":-17.6},
{"k":6,"x":560,"y":-18.05},{"k":6,"x":600,"y":-17.75},{"k":6,"x":640,"y":-18.15},{"k":6,"x":680,"y":-17.55},{"k":6,"x":720,"y":-17.75},{"k":6,"x":760,"y":-17.55},{"k":6,"x":800,"y":-18.15},{"k":6,"x":840,"y":-17.85},{"k":6,"x":880,"y":-18.3},{"k":6,"x":920,"y":-17.7},{"k":6,"x":960,"y":-17.85},{"k":6,"x":1000,"y":-17.55},{"k":6,"x":1040,"y":-18.3},{"k":6,"x":1080,"y":-18.1},{"k":6,"x":1120,"y":-18.65},{"k":6,"x":1160,"y":-18.5},{"k":6,"x":1200,"y":-18.8},{"k":6,"x":1240,"y":-18.05},{"k":6,"x":1280,"y":-18.4},{"k":6,"x":1320,"y":-17.95},{"k":6,"x":1360,"y":-18.2},{"k":6,"x":1400,"y":-17.75},{"k":6,"x":1440,"y":-18.05},{"k":6,"x":1480,"y":-17.45},{"k":6,"x":1520,"y":-17.75},{"k":6,"x":1560,"y":-17.5},{"k":6,"x":1600,"y":-18.0},{"k":6,"x":1640,"y":-17.45},{"k":6,"x":1680,"y":-17.8},{"k":6,"x":1720,"y":-17.5},{"k":6,"x":1760,"y":-18.1},{"k":6,"x":1800,"y":-17.95},{"k":6,"x":1840,"y":-18.3},{"k":6,"x":1880,"y":-17.6},{"k":6,"x":1920,"y":-17.95},{"k":6,"x":1960,"y":-17.7},{"k":6,"x":2000,"y":-18.1},{"k":6,"x":2040,"y":-17.55},{"k":6,"x":2080,"y":-18.0},{"k":6,"x":2120,"y":-17.75},{"k":6,"x":2160,"y":-18.15},{"k":6,"x":2200,"y":-17.75},{"k":6,"x":2240,"y":-18.0},{"k":6,"x":2280,"y":-17.4},{"k":6,"x":2320,"y":-17.85},{"k":6,"x":2360,"y":-17.65},{"k":6,"x":2400,"y":-18.0},{"k":6,"x":2440,"y":-17.35},{"k":6,"x":2480,"y":-17.75},{"k":6,"x":2520,"y":-17.35},{"k":6,"x":2560,"y":-17.8},{"k":6,"x":2600,"y":-17.6},{"k":6,"x":2640,"y":-18.05},{"k":6,"x":2680,"y":-17.6},{"k":6,"x":2720,"y":-18.0},{"k":6,"x":2760,"y":-17.7},{"k":6,"x":2800,"y":-18.0},{"k":6,"x":2840,"y":-17.45},{"k":6,"x":2880,"y":-17.85},{"k":6,"x":2920,"y":-17.35},{"k":6,"x":2960,"y":-17.65},{"k":6,"x":3000,"y":-17.25},{"k":6,"x":3040,"y":-17.7},{"k":6,"x":3080,"y":-17.35},{"k":6,"x":3120,"y":-17.9},{"k":6,"x":3160,"y":-17.75},{"k":6,"x":3200,"y":-18.1},{"k":6,"x":3240,"y":-17.45},{"k":6,"x":3280,"y":-17.85},{"k":6,"x":3320,"y":-17.45},{"k":6,"x":3360,"y":-17.7},{"k":6,"x":3400,"y":-17.25},{"k":6,"x":3440,"y":-17.55},{"k":6,"x":3480,"y":-17.1},{"k":6,"x":3520,"y":-17.7},{"k":6,"x":3560,"y":-17.6},{"k":6,"x":3600,"y":-17.95},{"k":6,"x":3640,"y":-17.25},{"k":6,"x":3680,"y":-17.7},{"k":6,"x":3720,"y":-17.35},{"k":6,"x":3760,"y":-17.8},{"k":6,"x":3800,"y":-17.65},{"k":6,"x":3840,"y":-18.15},{"k":6,"x":3880,"y":-17.75},{"k":6,"x":3920,"y":-18.25},{"k":6,"x":3960,"y":-17.85},
{"k":7,"x":0,"y":12.7},{"k":7,"x":10,"y":11.6},{"k":7,"x":20,"y":10.6},{"k":7,"x":30,"y":9.2},{"k":7,"x":40,"y":7.6},{"k":7,"x":50,"y":6.0},{"k":7,"x":60,"y":4.1},{"k":7,"x":70,"y":2.2},{"k":7,"x":80,"y":0.2},{"k":7,"x":90,"y":-1.2},{"k":7,"x":100,"y":-2.4},{"k":7,"x":110,"y":-3.5},{"k":7,"x":120,"y":-4.7},{"k":7,"x":135,"y":-6.1},{"k":7,"x":150,"y":-7.4},{"k":7,"x":165,"y":-8.6},{"k":7,"x":180,"y":-9.8},{"k":7,"x":200,"y":-10.9},{"k":7,"x":220,"y":-11.8},{"k":7,"x":240,"y":-12.6},{"k":7,"x":260,"y":-13.3},{"k":7,"x":280,"y":-14.0},{"k":7,"x":300,"y":-14.6},{"k":7,"x":330,"y":-15.3},{"k":7,"x":360,"y":-15.9},{"k":7,"x":390,"y":-16.4},{"k":7,"x":420,"y":-17.0},{"k":7,"x":460,"y":-17.5},{"k":7,"x":500,"y":-18.1},{"k":7,"x":540,"y":-18.6},{"k":7,"x":560,"y":-18.7},{"k":7,"x":580,"y":-18.95},{"k":7,"x":600,"y":-18.9},{"k":7,"x":620,"y":-19.15},{"k":7,"x":640,"y":-19.3},{"k":7,"x":660,"y":-19.1},{"k":7,"x":680,"y":-19.35},{"k":7,"x":700,"y":-19.45},{"k":7,"x":720,"y":-19.3},{"k":7,"x":740,"y":-19.6},{"k":7,"x":760,"y":-19.55},{"k":7,"x":780,"y":-19.75},
{"k":7,"x":800,"y":-19.7},{"k":7,"x":840,"y":-19.5},{"k":7,"x":880,"y":-19.3},{"k":7,"x":920,"y":-19.2},{"k":7,"x":960,"y":-19.1},{"k":7,"x":1000,"y":-19.2},{"k":7,"x":1040,"y":-19.3},{"k":7,"x":1080,"y":-19.3},{"k":7,"x":1120,"y":-19.1},{"k":7,"x":1160,"y":-18.9},{"k":7,"x":1200,"y":-18.7},{"k":7,"x":1240,"y":-18.9},{"k":7,"x":1280,"y":-19.1},{"k":7,"x":1320,"y":-19.3},{"k":7,"x":1360,"y":-19.5},{"k":7,"x":1400,"y":-19.6},{"k":7,"x":1440,"y":-19.6},{"k":7,"x":1480,"y":-19.4},{"k":7,"x":1520,"y":-19.2},{"k":7,"x":1560,"y":-19.0},{"k":7,"x":1600,"y":-18.9},{"k":7,"x":1640,"y":-19.1},{"k":7,"x":1680,"y":-19.3},{"k":7,"x":1720,"y":-19.4},{"k":7,"x":1760,"y":-19.2},{"k":7,"x":1800,"y":-18.9},{"k":7,"x":1840,"y":-19.0},{"k":7,"x":1880,"y":-19.2},{"k":7,"x":1920,"y":-19.3},{"k":7,"x":1960,"y":-19.3},{"k":7,"x":2000,"y":-19.4},{"k":7,"x":2040,"y":-19.5},{"k":7,"x":2080,"y":-19.7},{"k":7,"x":2120,"y":-19.8},{"k":7,"x":2160,"y":-19.6},{"k":7,"x":2200,"y":-19.2},{"k":7,"x":2240,"y":-19.0},{"k":7,"x":2280,"y":-19.2},{"k":7,"x":2320,"y":-19.4},{"k":7,"x":2360,"y":-19.5},{"k":7,"x":2400,"y":-19.5},{"k":7,"x":2440,"y":-19.6},{"k":7,"x":2480,"y":-19.7},{"k":7,"x":2520,"y":-19.8},{"k":7,"x":2560,"y":-19.7},{"k":7,"x":2600,"y":-19.6},{"k":7,"x":2640,"y":-19.6},{"k":7,"x":2680,"y":-19.5},{"k":7,"x":2720,"y":-19.6},{"k":7,"x":2760,"y":-19.5},{"k":7,"x":2800,"y":-19.5},{"k":7,"x":2840,"y":-19.6},{"k":7,"x":2880,"y":-19.5},{"k":7,"x":2920,"y":-19.6},{"k":7,"x":2960,"y":-19.7},{"k":7,"x":3000,"y":-19.7},{"k":7,"x":3040,"y":-19.8},{"k":7,"x":3080,"y":-19.7},{"k":7,"x":3120,"y":-19.5},{"k":7,"x":3160,"y":-19.3},{"k":7,"x":3200,"y":-19.1},{"k":7,"x":3240,"y":-19.0},{"k":7,"x":3280,"y":-19.2},{"k":7,"x":3320,"y":-19.6},{"k":7,"x":3360,"y":-19.8},{"k":7,"x":3400,"y":-19.7},{"k":7,"x":3440,"y":-19.8},{"k":7,"x":3480,"y":-19.9},{"k":7,"x":3520,"y":-20.0},{"k":7,"x":3560,"y":-19.8},{"k":7,"x":3600,"y":-19.6},{"k":7,"x":3640,"y":-19.6},{"k":7,"x":3680,"y":-19.5},{"k":7,"x":3720,"y":-19.4},{"k":7,"x":3760,"y":-19.4},{"k":7,"x":3800,"y":-19.3},{"k":7,"x":3840,"y":-19.4},{"k":7,"x":3880,"y":-19.5},{"k":7,"x":3920,"y":-19.4},{"k":7,"x":3960,"y":-19.4},{"k":7,"x":4000,"y":-19.4},
{"k":7,"x":820,"y":-19.35},{"k":7,"x":860,"y":-19.5},{"k":7,"x":900,"y":-19.1},{"k":7,"x":940,"y":-19.4},{"k":7,"x":980,"y":-18.85},{"k":7,"x":1020,"y":-19.4},{"k":7,"x":1060,"y":-19.1},{"k":7,"x":1100,"y":-19.4},{"k":7,"x":1140,"y":-18.9},{"k":7,"x":1180,"y":-19.1},{"k":7,"x":1220,"y":-18.55},{"k":7,"x":1260,"y":-19.1},{"k":7,"x":1300,"y":-19.05},{"k":7,"x":1340,"y":-19.65},{"k":7,"x":1380,"y":-19.25},{"k":7,"x":1420,"y":-19.75},{"k":7,"x":1460,"y":-19.3},{"k":7,"x":1500,"y":-19.5},{"k":7,"x":1540,"y":-19.0},{"k":7,"x":1580,"y":-19.25},{"k":7,"x":1620,"y":-18.75},{"k":7,"x":1660,"y":-19.3},{"k":7,"x":1700,"y":-19.2},{"k":7,"x":1740,"y":-19.55},{"k":7,"x":1780,"y":-18.75},{"k":7,"x":1820,"y":-19.1},{"k":7,"x":1860,"y":-18.9},{"k":7,"x":1900,"y":-19.45},{"k":7,"x":1940,"y":-19.2},{"k":7,"x":1980,"y":-19.65},{"k":7,"x":2020,"y":-19.2},{"k":7,"x":2060,"y":-19.7},{"k":7,"x":2100,"y":-19.6},{"k":7,"x":2140,"y":-19.95},{"k":7,"x":2180,"y":-19.1},{"k":7,"x":2220,"y":-19.25},{"k":7,"x":2260,"y":-18.9},{"k":7,"x":2300,"y":-19.5},{"k":7,"x":2340,"y":-19.35},{"k":7,"x":2380,"y":-19.8},{"k":7,"x":2420,"y":-19.3},{"k":7,"x":2460,"y":-19.75},{"k":7,"x":2500,"y":-19.6},{"k":7,"x":2540,"y":-20.0},{"k":7,"x":2580,"y":-19.35},{"k":7,"x":2620,"y":-19.75},{"k":7,"x":2660,"y":-19.35},{"k":7,"x":2700,"y":-19.75},{"k":7,"x":2740,"y":-19.45},{"k":7,"x":2780,"y":-19.8},{"k":7,"x":2820,"y":-19.3},{"k":7,"x":2860,"y":-19.65},{"k":7,"x":2900,"y":-19.4},{"k":7,"x":2940,"y":-19.9},{"k":7,"x":2980,"y":-19.4},{"k":7,"x":3020,"y":-19.9},{"k":7,"x":3060,"y":-19.55},{"k":7,"x":3100,"y":-19.8},{"k":7,"x":3140,"y":-19.3},{"k":7,"x":3180,"y":-19.5},{"k":7,"x":3220,"y":-18.8},{"k":7,"x":3260,"y":-19.2},{"k":7,"x":3300,"y":-19.25},{"k":7,"x":3340,"y":-19.95},{"k":7,"x":3380,"y":-19.45},{"k":7,"x":3420,"y":-19.9},{"k":7,"x":3460,"y":-19.65},{"k":7,"x":3500,"y":-20.15},{"k":7,"x":3540,"y":-19.8},{"k":7,"x":3580,"y":-20.0},{"k":7,"x":3620,"y":-19.35},{"k":7,"x":3660,"y":-19.65},{"k":7,"x":3700,"y":-19.3},{"k":7,"x":3740,"y":-19.65},{"k":7,"x":3780,"y":-19.05},{"k":7,"x":3820,"y":-19.5},{"k":7,"x":3860,"y":-19.25},{"k":7,"x":3900,"y":-19.65},{"k":7,"x":3940,"y":-19.3},{"k":7,"x":3980,"y":-19.7}
]},
"data": {"name": "msd"},
"transform": [{"lookup": "k", "from": {"data": {"name": "names"}, "key": "k", "fields": ["n"]}}],
"layer": [
 {"mark": {"type": "line", "clip": true, "strokeWidth": 2.8},
  "encoding": {
   "x": {"field": "x", "type": "quantitative", "scale": {"domain": [0, 4000], "nice": false, "zero": false},
     "axis": {"orient": "bottom", "values": [0,500,1000,1500,2000,2500,3000,3500,4000], "labelExpr": "'' + datum.value", "title": "Iterations", "labelPadding": 16, "titlePadding": 5, "labelFlush": false}},
   "y": {"field": "y", "type": "quantitative", "scale": {"domain": [-25, 20], "nice": false, "zero": false},
     "axis": {"orient": "left", "values": [-25,-20,-15,-10,-5,0,5,10,15,20], "labelExpr": "'' + datum.value", "title": "MSD", "labelPadding": 12, "titlePadding": 5, "labelFlush": false}},
   "color": {"field": "n", "type": "nominal",
     "scale": {"domain": ["LMS(η=0.025)","LMF(η=0.00045)","GMCC(α=1, β=10, η=0.177)","GMEE(L=10, α=8, β=4.5, η=0.0049)","GMEE(L=10, α=10, β=4.5, η=0.0037)","GMEE(L=10, α=12, β=4.5, η=0.0028)","GMEE(L=10, α=14, β=4.5, η=0.0024)"],
       "range": ["#00FF00","#BF00BF","#00FFFF","#000000","#0000FF","#BF00BF","#FF0000"]},
     "legend": {"orient": "none", "legendX": 168, "legendY": 7, "title": null, "symbolType": "M-4.4,0L4.4,0", "symbolSize": 100, "symbolStrokeWidth": 2.5, "symbolOffset": 17, "labelOffset": 20, "labelFont": "Liberation Sans", "labelFontSize": 20, "labelColor": "#000000", "labelLimit": 600, "padding": 6, "rowPadding": 8, "strokeColor": "#262626", "fillColor": "white"}}
  }},
 {"mark": {"type": "point", "opacity": 0},
  "encoding": {
   "x": {"field": "x", "type": "quantitative", "axis": {"orient": "top", "values": [0,500,1000,1500,2000,2500,3000,3500,4000], "labels": false, "title": null}},
   "y": {"field": "y", "type": "quantitative", "axis": {"orient": "right", "values": [-25,-20,-15,-10,-5,0,5,10,15,20], "labels": false, "title": null}}
  }}
],
"resolve": {"axis": {"x": "independent", "y": "independent"}}
}
